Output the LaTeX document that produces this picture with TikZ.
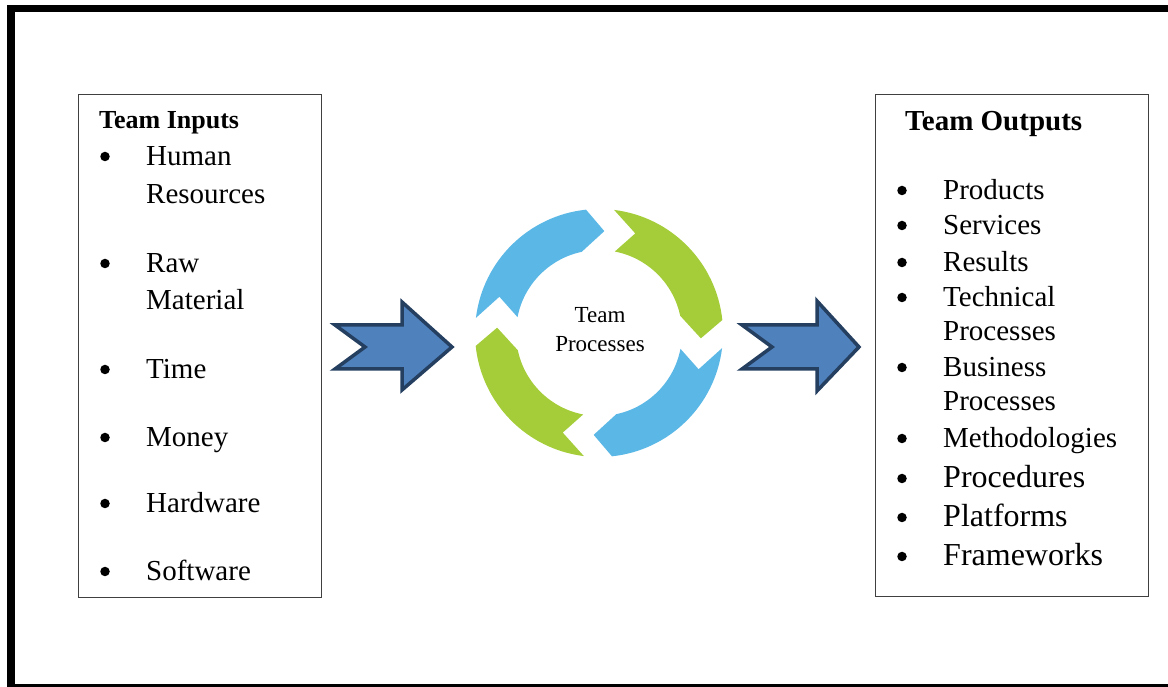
\documentclass[tikz,border=0pt]{standalone}
\usepackage{fontspec}
\setmainfont{Liberation Serif}
\usetikzlibrary{positioning,calc}

\definecolor{cycleblue}{RGB}{91,184,230}
\definecolor{cyclegreen}{RGB}{165,205,57}
\definecolor{arrowfill}{RGB}{79,129,189}
\definecolor{arrowline}{RGB}{36,63,96}

\tikzset{
  listbox/.style={draw=black!75, line width=1.2pt, inner sep=0pt, anchor=south west},
  heading/.style={font=\bfseries, anchor=base west, inner sep=0pt},
  item/.style={font=\fontsize{29}{34}\selectfont, anchor=base west, inner sep=0pt},
  bigitem/.style={font=\fontsize{32}{38}\selectfont, anchor=base west, inner sep=0pt},
  dot/.style={circle, fill=black, minimum size=9.5pt, inner sep=0pt},
  midtext/.style={font=\fontsize{23}{28}\selectfont, anchor=base, inner sep=0pt},
  blockarrow/.style={fill=arrowfill, draw=arrowline, line width=3.5pt, line join=miter},
}

\begin{document}
\begin{tikzpicture}[x=1pt, y=1pt]
  \useasboundingbox (0,0) rectangle (1168,686);
  \clip (0,0) rectangle (1168,686);

  % Frame
  \draw[line width=7.5pt] (11,677.5) rectangle (1190,-2);

  % Boxes
  \node[listbox, minimum width=243pt, minimum height=503pt] (inputs) at (78,88) {};
  \node[listbox, minimum width=273pt, minimum height=502pt] (outputs) at (875,89) {};

  % Team inputs
  \node[heading, font=\fontsize{26}{30}\selectfont\bfseries] (inhead) at (99,557) {Team Inputs};
  \foreach \y [count=\i] in {520,413,307,239,173,105}
    \node[dot] (indot-\i) at (105,\y+9.5) {};
  \foreach \txt/\y [count=\i] in {Human/520, Resources/482, Raw/413, Material/376,
      Time/307, Money/239, Hardware/173, Software/105}
    \node[item] (in-\i) at (146,\y) {\txt};

  % Team outputs
  \node[heading, font=\fontsize{29}{34}\selectfont\bfseries] (outhead) at (905,555) {Team Outputs};
  \foreach \y [count=\i] in {486,451,414,379,309,238,198,159,120}
    \node[dot] (outdot-\i) at (902,\y+9.5) {};
  \foreach \txt/\y [count=\i] in {Products/486, Services/451, Results/414, Technical/379,
      Processes/345, Business/309, Processes/275, Methodologies/238}
    \node[item] (out-\i) at (943,\y) {\txt};
  \foreach \txt/\y [count=\i] in {Procedures/198, Platforms/159, Frameworks/120}
    \node[bigitem] (outbig-\i) at (943,\y) {\txt};

  % Cycle of team processes
  \coordinate (hub) at (599,353);
  \foreach \t/\col in {0/cycleblue, -90/cyclegreen, -180/cycleblue, -270/cyclegreen}
    \fill[\col] ($(hub)+(173+\t:124)$)
      arc[start angle=173+\t, end angle=96+\t, radius=124]
      -- ($(hub)+(87+\t:102)$) -- ($(hub)+(102+\t:83)$)
      arc[start angle=102+\t, end angle=169+\t, radius=83]
      -- ($(hub)+(160+\t:106)$) -- cycle;
  \node[midtext] (proc-a) at (600,363) {Team};
  \node[midtext] (proc-b) at (600,334) {Processes};

  % Block arrows
  \draw[blockarrow] (335,361) -- (402,361) -- (402,384) -- (452,339) -- (402,296)
    -- (402,317) -- (335,317) -- (365,339) -- cycle;
  \draw[blockarrow] (742,361) -- (817,361) -- (817,385) -- (859,339) -- (817,295)
    -- (817,317) -- (742,317) -- (772,339) -- cycle;
\end{tikzpicture}
\end{document}
